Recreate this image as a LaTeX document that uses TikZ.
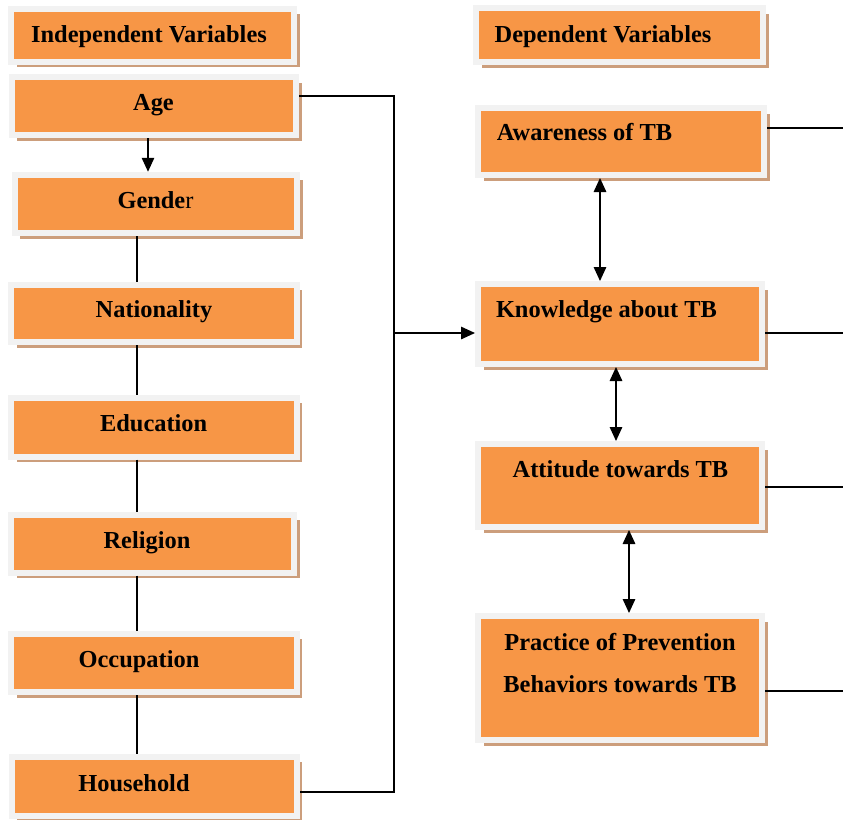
\documentclass[tikz,border=0pt]{standalone}
\usepackage{fontspec}
\setmainfont{Liberation Serif}
\usetikzlibrary{shadows,arrows.meta}
\definecolor{boxorange}{HTML}{F79646}
\definecolor{framegray}{HTML}{F2F2F2}
\definecolor{shadowtan}{HTML}{CC9E7C}
\tikzset{
  vbox/.style={rectangle, fill=boxorange, draw=framegray, line width=6pt, inner sep=0pt,
    drop shadow={shadow xshift=5.5pt, shadow yshift=-5.5pt, fill=shadowtan, opacity=1}},
  lbl/.style={font=\fontsize{24.4}{28}\selectfont\bfseries, inner sep=0pt, anchor=base},
  conn/.style={line width=1.4pt, black},
  tipA/.tip={Triangle[length=14pt,width=12.5pt]},
  arr/.style={conn, -tipA},
  arrboth/.style={conn, tipA-tipA}
}
\begin{document}
\begin{tikzpicture}[x=1pt,y=-1pt]
\useasboundingbox (0,0) rectangle (843,819);
% left column boxes
\node[vbox, minimum width=283pt, minimum height=53pt] (indep) at (152.5,35) {};
\node[vbox, minimum width=284.5pt, minimum height=58pt] (age) at (153.75,106) {};
\node[vbox, minimum width=282.5pt, minimum height=58.5pt] (gender) at (155.75,204) {};
\node[vbox, minimum width=285.5pt, minimum height=57.5pt] (nationality) at (153.75,313.25) {};
\node[vbox, minimum width=285.5pt, minimum height=59pt] (education) at (153.75,427) {};
\node[vbox, minimum width=283pt, minimum height=58pt] (religion) at (152.5,543.5) {};
\node[vbox, minimum width=285.5pt, minimum height=58.5pt] (occupation) at (153.75,662.75) {};
\node[vbox, minimum width=285pt, minimum height=59pt] (household) at (154,786) {};
% right column boxes
\node[vbox, minimum width=287pt, minimum height=54pt] (dep) at (619.5,35) {};
\node[vbox, minimum width=286pt, minimum height=67pt] (awareness) at (621,141.5) {};
\node[vbox, minimum width=284pt, minimum height=80pt] (knowledge) at (620,324) {};
\node[vbox, minimum width=284pt, minimum height=83pt] (attitude) at (620,485.5) {};
\node[vbox, minimum width=284pt, minimum height=124pt] (practice) at (620,678) {};
% labels
\node[lbl] (tindep) at (149,42) {Independent Variables};
\node[lbl] (tage) at (153.5,110) {Age};
\node[lbl] (tgender) at (155.5,208) {Gende\textmd{r}};
\node[lbl] (tnat) at (154,317) {Nationality};
\node[lbl] (tedu) at (153.7,431) {Education};
\node[lbl] (trel) at (147,548) {Religion};
\node[lbl] (tocc) at (139,667) {Occupation};
\node[lbl] (thouse) at (134,791) {Household};
\node[lbl] (tdep) at (603,42) {Dependent Variables};
\node[lbl] (tawa) at (584.5,140) {Awareness of TB};
\node[lbl] (tknow) at (606.5,317) {Knowledge about TB};
\node[lbl] (tatt) at (620.5,477) {Attitude towards TB};
\node[lbl] (tprac1) at (620,650) {Practice of Prevention};
\node[lbl] (tprac2) at (620,692) {Behaviors towards TB};
% helper coordinates
\coordinate (ax) at (148,0);
\coordinate (lx) at (137,0);
\coordinate (a1) at (394,96);
\coordinate (a2) at (394,792);
\coordinate (a3) at (394,333);
\coordinate (c1) at (600,0);
\coordinate (c2) at (616,0);
\coordinate (c3) at (629,0);
\coordinate (r1) at (843,128);
\coordinate (r2) at (843,333);
\coordinate (r3) at (843,487);
\coordinate (r4) at (843,691);
% left connectors
\draw[arr] (age.south -| ax) -- (gender.north -| ax);
\draw[conn] (gender.south -| lx) -- (nationality.north -| lx);
\draw[conn] (nationality.south -| lx) -- (education.north -| lx);
\draw[conn] (education.south -| lx) -- (religion.north -| lx);
\draw[conn] (religion.south -| lx) -- (occupation.north -| lx);
\draw[conn] (occupation.south -| lx) -- (household.north -| lx);
\draw[conn] (age.east |- a1) -- (a1) -- (a2) -- (household.east |- a2);
\draw[arr] (a3) -- (knowledge.west |- a3);
% right connectors
\draw[arrboth] (awareness.south -| c1) -- (knowledge.north -| c1);
\draw[arrboth] (knowledge.south -| c2) -- (attitude.north -| c2);
\draw[arrboth] (attitude.south -| c3) -- (practice.north -| c3);
\draw[conn] (awareness.east |- r1) -- (r1);
\draw[conn] (knowledge.east |- r2) -- (r2);
\draw[conn] (attitude.east |- r3) -- (r3);
\draw[conn] (practice.east |- r4) -- (r4);
\end{tikzpicture}
\end{document}
